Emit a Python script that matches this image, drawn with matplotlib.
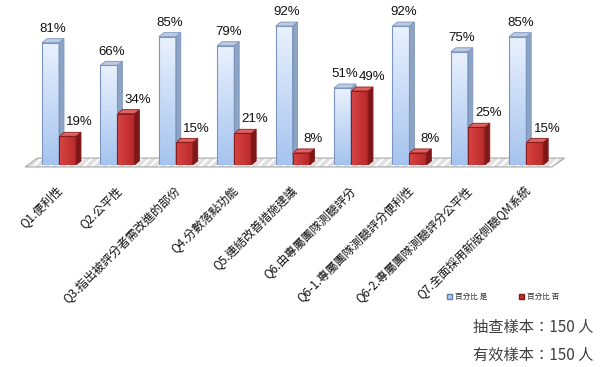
import numpy as np
import matplotlib
matplotlib.use('Agg')
import matplotlib.pyplot as plt
from matplotlib.patches import Polygon, Patch

plt.rcParams['font.family'] = ['Noto Sans CJK TC', 'DejaVu Sans']
plt.rcParams['hatch.linewidth'] = 1.5

# Données
questions = ['Q1.便利性', 'Q2.公平性', 'Q3.指出被評分者需改進的部份', 'Q4.分數落點功能',
             'Q5.連結改善措施建議', 'Q6.由專屬團隊測聽評分', 'Q6-1.專屬團隊測聽評分便利性',
             'Q6-2.專屬團隊測聽評分公平性', 'Q7.全面採用新版側聽QM系統']
pct_yes = [81, 66, 85, 79, 92, 51, 92, 75, 85]
pct_no = [19, 34, 15, 21, 8, 49, 8, 25, 15]
series_names = ['百分比 是', '百分比 否']
notes = ['抽查樣本：150 人', '有效樣本：150 人']

W, H = 603, 367
fig = plt.figure(figsize=(W / 100, H / 100), dpi=100)
# axe : x en index de groupe, y en pourcentage
ax = fig.add_axes([0, (H - 165) / H, 1, 151 / H])
ax.set_xlim(-59 / 58.4, (W - 59) / 58.4)
ax.set_ylim(0, 100)
ax.axis('off')

w = 17 / 58.4      # largeur d'une barre
dx = 5 / 58.4      # profondeur 3D en x
dy = 4 / 1.51      # profondeur 3D en y

# sol gris hachuré
floor = [(-0.58, -1.3), (8.44, -1.3), (8.66, 4.6), (-0.37, 4.6)]
ax.add_patch(Polygon(floor, closed=True, facecolor='#e0e0e0', edgecolor='white',
                     hatch='////', lw=0, clip_on=False, zorder=1))
ax.add_patch(Polygon(floor, closed=True, facecolor='none', edgecolor='#a8a8a8',
                     lw=0.8, clip_on=False, zorder=1.1))

grad_v = np.linspace(0, 1, 64).reshape(-1, 1)
grad_h = np.linspace(0, 1, 32).reshape(1, -1)
blue_cmap = matplotlib.colors.LinearSegmentedColormap.from_list('b', ['#a6c4ef', '#e9f1fe'])
red_cmap = matplotlib.colors.LinearSegmentedColormap.from_list('r', ['#d94343', '#b82a2a'])


def bar3d(x0, v, front_img, cmap, side, top, edge):
    ax.imshow(front_img, cmap=cmap, origin='lower', aspect='auto',
              extent=(x0, x0 + w, 0, v), zorder=3, interpolation='bilinear')
    ax.add_patch(Polygon([(x0, 0), (x0 + w, 0), (x0 + w, v), (x0, v)], closed=True,
                         facecolor='none', edgecolor=edge, lw=0.8, zorder=4))
    ax.add_patch(Polygon([(x0 + w, 0), (x0 + w + dx, dy), (x0 + w + dx, v + dy), (x0 + w, v)],
                         closed=True, facecolor=side, edgecolor=edge, lw=0.6, zorder=3))
    ax.add_patch(Polygon([(x0, v), (x0 + dx, v + dy), (x0 + w + dx, v + dy), (x0 + w, v)],
                         closed=True, facecolor=top, edgecolor=edge, lw=0.6, zorder=3))


for i in range(len(questions)):
    bar3d(i - w, pct_yes[i], grad_v, blue_cmap, '#8ea4c4', '#bccbe2', '#7b95bd')
    bar3d(i, pct_no[i], grad_h, red_cmap, '#7e1818', '#e06262', '#8a1c1c')
    ax.text(i - w / 2 + dx / 2, pct_yes[i] + dy + 6.5, f'{pct_yes[i]}%', ha='center', va='center',
            fontsize=9.5, family=['Liberation Sans'], color='#111111')
    ax.text(i + w / 2 + 0.21, pct_no[i] + dy + 6.5, f'{pct_no[i]}%', ha='center', va='center',
            fontsize=9.5, family=['Liberation Sans'], color='#111111')
    ax.text(i - 0.04, -12.5, questions[i], rotation=45, rotation_mode='anchor', ha='right', va='top',
            fontsize=8.5, color='#111111', clip_on=False)

handles = [Patch(facecolor='#b4cdf2', edgecolor='#5b7fb5'),
           Patch(facecolor='#c8302f', edgecolor='#7e1818')]
fig.legend(handles, series_names, loc='center', bbox_to_anchor=(503 / W, 1 - 297 / H),
           ncol=2, frameon=False, fontsize=5.5, handlelength=0.6, handleheight=0.6,
           handletextpad=0.4, columnspacing=4.2, labelcolor='#333333')

fig.text(593 / W, 1 - 327 / H, notes[0], ha='right', va='center', fontsize=11, color='#404040')
fig.text(593 / W, 1 - 355 / H, notes[1], ha='right', va='center', fontsize=11, color='#404040')

fig.savefig('out.png', dpi=100, facecolor='white')
